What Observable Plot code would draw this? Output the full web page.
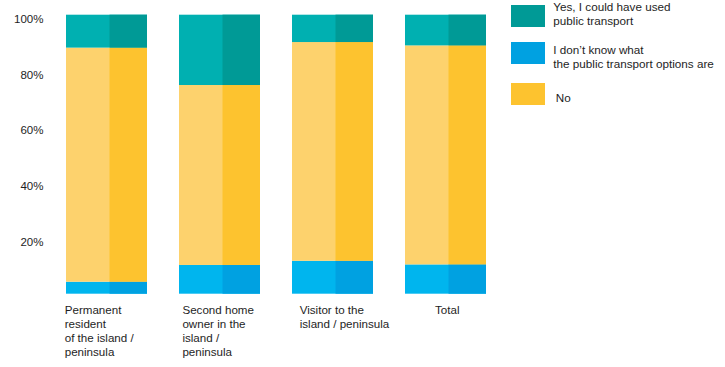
<!DOCTYPE html>
<html>
<head>
<meta charset="utf-8">
<script src="https://cdn.jsdelivr.net/npm/d3@7"></script>
<script src="https://cdn.jsdelivr.net/npm/@observablehq/plot@0.6"></script>
<style>
  html, body { margin: 0; padding: 0; background: #fff; }
  #wrap { position: relative; width: 725px; height: 367px; font-family: "Liberation Sans", Arial, sans-serif; color: #1e1e1e; }
  .sw { position: absolute; width: 34px; height: 22px; }
  .lt { position: absolute; font-size: 11.7px; line-height: 14px; white-space: pre; }
</style>
</head>
<body>
<div id="wrap"></div>
<script>
// ---- data ----
const categories = [
  "Permanent resident of the island / peninsula",
  "Second home owner in the island / peninsula",
  "Visitor to the island / peninsula",
  "Total"
];
const tickLabels = [
  "Permanent\nresident\nof the island /\npeninsula",
  "Second home\nowner in the\nisland /\npeninsula",
  "Visitor to the\nisland / peninsula",
  "Total"
];
const series = [
  "I don’t know what the public transport options are",
  "No",
  "Yes, I could have used public transport"
];
const dontKnow = [4.3, 10.3, 11.8, 10.5];
const no       = [83.9, 64.5, 78.4, 78.5];
const yes      = [11.8, 25.2, 9.8, 11.0];
const yTicks = [20, 40, 60, 80, 100];

const legendOrder = [series[2], series[0], series[1]];
const legendLabels = [
  "Yes, I could have used\npublic transport",
  "I don’t know what\nthe public transport options are",
  "No"
];

// ---- styles ----
const lightColor = {[series[0]]: "#00b5ee", [series[1]]: "#fdd26d", [series[2]]: "#00b0b1"};
const darkColor  = {[series[0]]: "#00a1e1", [series[1]]: "#fdc32f", [series[2]]: "#009a96"};
const labelDx = [-42.3, -37.6, -33.3, -11];

const rows = categories.flatMap((c, i) => [
  {cat: c, key: series[0], value: dontKnow[i]},
  {cat: c, key: series[1], value: no[i]},
  {cat: c, key: series[2], value: yes[i]}
]);

const font = "'Liberation Sans', Arial, sans-serif";

const chart = Plot.plot({
  width: 725,
  height: 367,
  marginLeft: 50,
  marginRight: 223,
  marginTop: 14.7,
  marginBottom: 73.3,
  style: {fontFamily: font, fontSize: "11.6px", color: "#1e1e1e", background: "transparent"},
  x: {domain: categories, paddingInner: 0.28, paddingOuter: 0.14, axis: null},
  y: {domain: [0, 100], axis: null},
  color: {type: "identity"},
  marks: [
    Plot.barY(rows, {x: "cat", y: "value", fill: d => lightColor[d.key]}),
    Plot.barY(rows, {x: "cat", y: "value", fill: d => darkColor[d.key], insetLeft: 43.5}),
    Plot.axisY({ticks: yTicks, tickFormat: d => d + "%", tickSize: 0, tickPadding: 7, dy: 4, fontSize: 11.5, label: null}),
    ...categories.map((c, i) => Plot.text([c], {
      x: d => d,
      frameAnchor: "bottom",
      text: () => tickLabels[i],
      textAnchor: "start",
      lineAnchor: "top",
      lineHeight: 1.22,
      dx: labelDx[i],
      dy: 9.5,
      fill: "#1e1e1e"
    }))
  ]
});

const wrap = document.getElementById("wrap");
wrap.appendChild(chart);

// ---- legend (HTML, right side) ----
const swTops = [4.7, 41.5, 82.7];
const txTops = [0.3, 43, 91.3];
const txLefts = [553.3, 553.3, 555.7];
legendOrder.forEach((k, i) => {
  const sw = document.createElement("div");
  sw.className = "sw";
  sw.style.left = "510.7px";
  sw.style.top = swTops[i] + "px";
  sw.style.background = darkColor[k];
  wrap.appendChild(sw);
  const t = document.createElement("div");
  t.className = "lt";
  t.style.left = txLefts[i] + "px";
  t.style.top = txTops[i] + "px";
  t.textContent = legendLabels[i];
  wrap.appendChild(t);
});
chart.style.position = "absolute";
chart.style.left = "0";
chart.style.top = "0";
</script>
</body>
</html>
